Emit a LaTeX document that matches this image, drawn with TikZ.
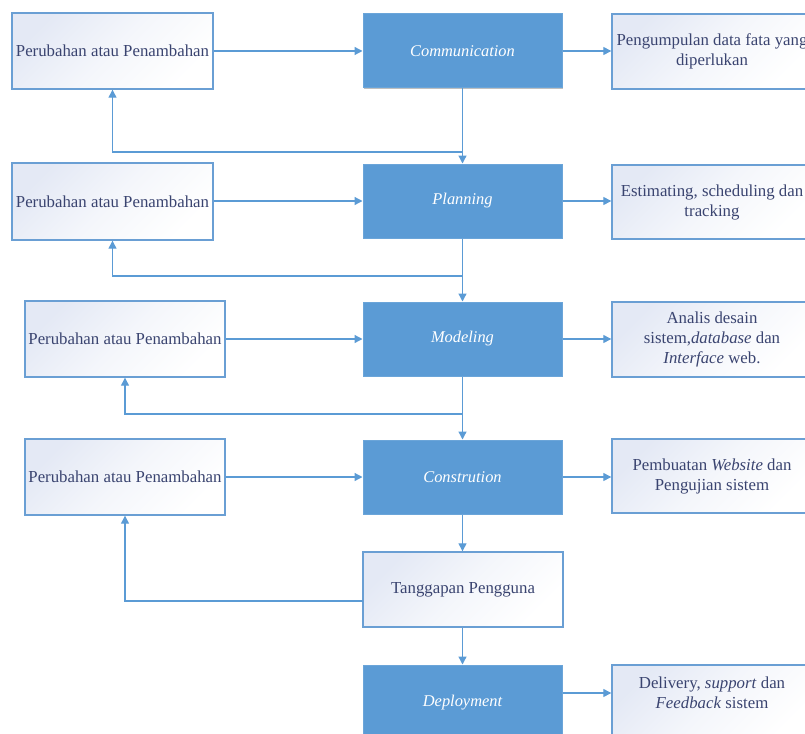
\documentclass[tikz,border=0pt]{standalone}
\usepackage{fontspec}
\setmainfont{Liberation Serif}
\usetikzlibrary{arrows.meta,shadows}
\definecolor{bfill}{HTML}{5B9BD5}
\definecolor{bline}{HTML}{5B9BD5}
\definecolor{wline}{HTML}{6A9FD4}
\definecolor{lightbg}{HTML}{E4E9F5}
\definecolor{wtext}{HTML}{3A4470}
\tikzset{
  bluebox/.style={rectangle, fill=bfill, draw=bfill!90!white, line width=1pt,
    minimum width=199pt, minimum height=74pt, inner sep=2pt,
    text=white, font=\fontsize{16.4}{19.5}\selectfont\itshape,
    drop shadow={shadow xshift=1pt, shadow yshift=-1pt, opacity=.25, fill=black}},
  whitebox/.style={rectangle, draw=wline, line width=1.4pt,
    top color=lightbg, bottom color=white, middle color=white!60!lightbg, shading angle=45,
    minimum width=200pt, minimum height=76pt, inner sep=2pt, align=center,
    text=wtext, font=\fontsize{16.8}{20}\selectfont},
  plain/.style={inner sep=0pt, align=center, text=wtext, font=\fontsize{16.8}{20}\selectfont},
  arr/.style={draw=bline, line width=1.3pt, -{Triangle[length=8pt,width=8pt]}},
}
\begin{document}
\begin{tikzpicture}[x=1pt,y=-1pt]
\useasboundingbox (0,0) rectangle (805,733);
\clip (0,0) rectangle (805,733);
% left boxes
\node[whitebox, minimum width=201pt] (L1) at (112.5,51) {Perubahan atau Penambahan};
\node[whitebox, minimum width=201pt, minimum height=77pt] (L2) at (112.5,201.5) {Perubahan atau Penambahan};
\node[whitebox] (L3) at (125,339) {Perubahan atau Penambahan};
\node[whitebox] (L4) at (125,477) {Perubahan atau Penambahan};
% centre column
\node[bluebox] (C1) at (462.5,51) {Communication};
\node[bluebox] (C2) at (462.5,201) {Planning};
\node[bluebox] (C3) at (462.5,339) {Modeling};
\node[bluebox] (C4) at (462.5,477) {Constrution};
\node[whitebox, minimum height=75pt] (T) at (463,589.5) {Tanggapan Pengguna};
\node[bluebox, minimum height=76pt] (C5) at (462.5,703) {Deployment};
% right boxes
\node[whitebox, minimum height=75pt] (R1) at (712,51.5) {Pengumpulan data fata yang\\diperlukan};
\node[whitebox, minimum height=74pt] (R2) at (712,202) {Estimating, scheduling dan\\tracking};
\node[whitebox, minimum height=75pt] (R3) at (712,339.5) {Analis desain\\sistem,\textit{database} dan\\\textit{Interface} web.};
\node[whitebox, minimum height=74pt] (R4) at (712,476) {Pembuatan \textit{Website} dan\\Pengujian sistem};
\node[whitebox, minimum height=76pt] (R5) at (712,703) {};
\node[plain] (R5t) at (712,693) {Delivery, \textit{support} dan\\\textit{Feedback} sistem};
% horizontal arrows
\draw[arr] (L1) -- (C1);
\draw[arr] (L2.east |- C2) -- (C2);
\draw[arr] (L3) -- (C3);
\draw[arr] (L4) -- (C4);
\draw[arr] (C1) -- (R1.west |- C1);
\draw[arr] (C2) -- (R2.west |- C2);
\draw[arr] (C3) -- (R3.west |- C3);
\draw[arr] (C4) -- (R4.west |- C4);
\draw[arr] (C5.east |- R5t) -- (R5.west |- R5t);
% vertical arrows
\draw[arr] (C1) -- (C2);
\draw[arr] (C2) -- (C3);
\draw[arr] (C3) -- (C4);
\draw[arr] (C4.south) -- (T.north -| C4.south);
\draw[arr] (T.south -| C5.north) -- (C5.north);
% feedback loops
\coordinate (f1) at (462.5,152);
\coordinate (f2) at (462.5,276);
\coordinate (f3) at (462.5,414);
\coordinate (f4) at (363,601);
\draw[arr] (f1) -| (L1.south);
\draw[arr] (f2) -| (L2.south);
\draw[arr] (f3) -| (L3.south);
\draw[arr] (f4) -| (L4.south);
\end{tikzpicture}
\end{document}
